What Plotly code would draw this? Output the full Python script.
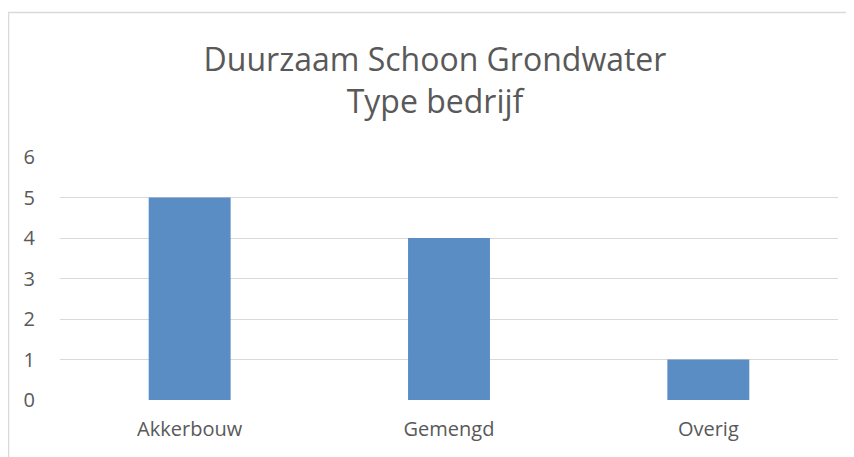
import plotly.graph_objects as go

categories = ["Akkerbouw", "Gemengd", "Overig"]
values = [5, 4, 1]
y_ticks = [0, 1, 2, 3, 4, 5, 6]

W, H = 854, 457
OFF = 8  # page body margin
L, T = 60 - OFF, 157 - OFF
pw, ph = 778, 243
R = W - L - pw
B = H - T - ph

fig = go.Figure(go.Bar(
    x=categories, y=values,
    marker=dict(color="#5B8DC5", line=dict(width=0)),
    width=0.316,
))

def px_x(v):
    return (v - OFF - L) / pw

def px_y(v):
    return (T + ph - (v - OFF)) / ph

fig.update_layout(
    width=W, height=H,
    margin=dict(l=L, r=R, t=T, b=B, autoexpand=False),
    paper_bgcolor="white", plot_bgcolor="white",
    font=dict(family="Open Sans", color="#595959", size=15),
    title=dict(
        text="Duurzaam Schoon Grondwater<br>Type bedrijf",
        x=(435 - OFF) / W, xanchor="center", xref="container",
        y=1 - (71 - OFF) / H, yanchor="top",
        font=dict(family="Open Sans", size=32, color="#595959"),
    ),
    showlegend=False,
    bargap=0.684,
    xaxis=dict(showgrid=False, showline=False, ticks="", ticklabelstandoff=15,
               tickfont=dict(size=20)),
    yaxis=dict(range=[0, 6], tickvals=y_ticks, showgrid=True, gridcolor="#D9D9D9",
               gridwidth=1, zeroline=False, showline=False, ticks="",
               ticklabelstandoff=24, tickfont=dict(size=20)),
    shapes=[
        dict(type="line", xref="paper", yref="paper",
             x0=px_x(8), x1=px_x(870), y0=px_y(12.5), y1=px_y(12.5),
             line=dict(color="#D9D9D9", width=1.5)),
        dict(type="line", xref="paper", yref="paper",
             x0=px_x(8.5), x1=px_x(8.5), y0=px_y(12), y1=px_y(480),
             line=dict(color="#D9D9D9", width=1.5)),
    ],
)

fig.write_html("out.html")
